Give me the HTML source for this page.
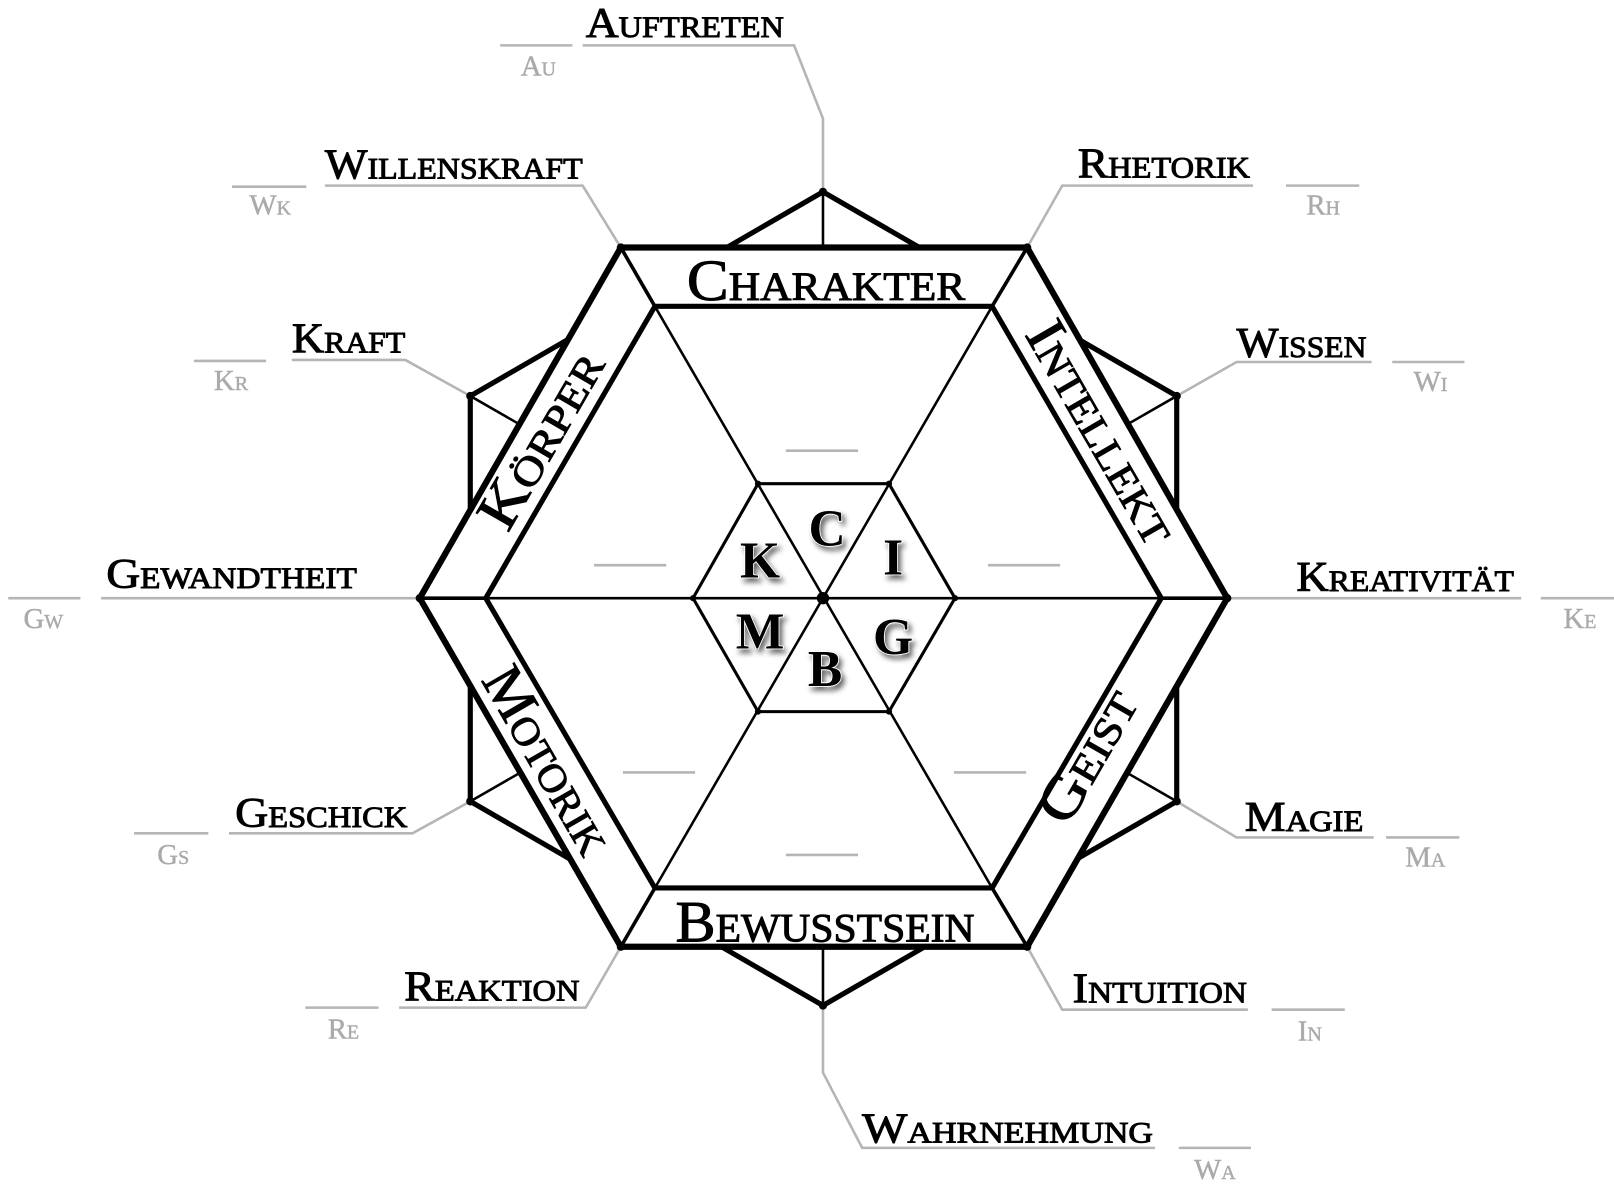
<!DOCTYPE html>
<html><head><meta charset="utf-8"><style>
html,body{margin:0;padding:0;background:#fff;}
svg{display:block;}
.lb{font-family:"Liberation Serif",serif;font-variant:small-caps;font-size:41px;fill:#000;stroke:#000;stroke-width:0.9px;}
.ab{font-family:"Liberation Serif",serif;font-variant:small-caps;font-size:28px;fill:#aaa;stroke:#aaa;stroke-width:0.4px;}
.bd{font-family:"Liberation Serif",serif;font-variant:small-caps;font-size:56px;fill:#000;stroke:#000;stroke-width:0.9px;}
.lt{font-family:"Liberation Serif",serif;font-weight:bold;font-size:50px;fill:#000;stroke:#fff;stroke-width:1.5px;paint-order:stroke;}
.g{stroke:#b5b5b5;stroke-width:2.5;fill:none;}
</style></head><body>
<svg width="1614" height="1185" viewBox="0 0 1565 1149" xmlns="http://www.w3.org/2000/svg">
<defs>
<filter id="sh" x="-50%" y="-50%" width="200%" height="200%">
<feGaussianBlur in="SourceAlpha" stdDeviation="2.5"/><feOffset dx="3" dy="4"/>
<feComponentTransfer><feFuncA type="linear" slope="0.6"/></feComponentTransfer>
<feMerge><feMergeNode/><feMergeNode in="SourceGraphic"/></feMerge></filter>
</defs>
<g class="g">
<polyline points="798,186 798,115 770,44 565,44"/>
<line x1="485" y1="44" x2="555" y2="44"/>
<polyline points="602,240 565,180 315,180"/>
<line x1="225" y1="181" x2="297" y2="181"/>
<polyline points="996,240 1030,180 1215,180"/>
<line x1="1247" y1="180" x2="1318" y2="180"/>
<polyline points="456,384 393,349 283,349"/>
<line x1="188" y1="350" x2="258" y2="350"/>
<polyline points="1141,384 1199,351 1330,351"/>
<line x1="1350" y1="351" x2="1420" y2="351"/>
<line x1="98" y1="580" x2="407" y2="580"/>
<line x1="8" y1="580" x2="78" y2="580"/>
<line x1="1190" y1="580" x2="1475" y2="580"/>
<line x1="1494" y1="580" x2="1565" y2="580"/>
<polyline points="456,777 400,808 222,808"/>
<line x1="130" y1="808" x2="202" y2="808"/>
<polyline points="1141,777 1199,812 1332,812"/>
<line x1="1344" y1="812" x2="1415" y2="812"/>
<polyline points="602,918 568,977 387,977"/>
<line x1="296" y1="977" x2="367" y2="977"/>
<polyline points="996,918 1030,979 1210,979"/>
<line x1="1233" y1="979" x2="1304" y2="979"/>
<polyline points="798,975 798,1040 836,1113 1120,1113"/>
<line x1="1143" y1="1113" x2="1213" y2="1113"/>
</g>
<g stroke="#000" fill="none">
<polygon points="798,186 1141,384 1141,777 798,975 456,777 456,384" stroke-width="5" stroke-linejoin="miter"/>
<g stroke-width="2.5">
<line x1="798" y1="186" x2="798" y2="975"/>
<line x1="456" y1="384" x2="1141" y2="777"/>
<line x1="1141" y1="384" x2="456" y2="777"/>
</g>
</g>
<polygon points="407,580 602,240 996,240 1190,580 996,918 602,918" fill="#fff" stroke="#000" stroke-width="6" stroke-linejoin="miter"/>
<g stroke="#000" stroke-width="3.5">
<line x1="602" y1="240" x2="635" y2="297"/>
<line x1="996" y1="240" x2="962" y2="297"/>
<line x1="407" y1="580" x2="471" y2="580"/>
<line x1="1190" y1="580" x2="1126" y2="580"/>
<line x1="602" y1="918" x2="635" y2="861"/>
<line x1="996" y1="918" x2="962" y2="861"/>
</g>
<polygon points="471,580 635,297 962,297 1126,580 962,861 635,861" fill="#fff" stroke="#000" stroke-width="5"/>
<g stroke="#000" stroke-width="2.5">
<line x1="635" y1="297" x2="962" y2="861"/>
<line x1="962" y1="297" x2="635" y2="861"/>
<line x1="471" y1="580" x2="1126" y2="580"/>
</g>
<polygon points="672,580 735,469 862,469 926,580 862,690 735,690" fill="none" stroke="#000" stroke-width="3"/>
<g class="g">
<line x1="762" y1="437" x2="832" y2="437"/>
<line x1="576" y1="548" x2="646" y2="548"/>
<line x1="958" y1="548" x2="1028" y2="548"/>
<line x1="604" y1="749" x2="674" y2="749"/>
<line x1="925" y1="749" x2="995" y2="749"/>
<line x1="762" y1="829" x2="832" y2="829"/>
</g>
<g fill="#000">
<circle cx="798" cy="580" r="6"/>
<circle cx="735" cy="469" r="3"/><circle cx="862" cy="469" r="3"/>
<circle cx="672" cy="580" r="3"/><circle cx="926" cy="580" r="3"/>
<circle cx="735" cy="690" r="3"/><circle cx="862" cy="690" r="3"/>
<circle cx="407" cy="580" r="4"/><circle cx="1190" cy="580" r="4"/>
<circle cx="602" cy="240" r="4"/><circle cx="996" cy="240" r="4"/>
<circle cx="602" cy="918" r="4"/><circle cx="996" cy="918" r="4"/>
<circle cx="798" cy="186" r="4"/><circle cx="798" cy="975" r="4"/>
<circle cx="456" cy="384" r="4"/><circle cx="1141" cy="384" r="4"/>
<circle cx="456" cy="777" r="4"/><circle cx="1141" cy="777" r="4"/>
</g>
<g filter="url(#sh)" text-anchor="middle">
<text class="lt" x="802" y="529">C</text>
<text class="lt" x="866" y="557">I</text>
<text class="lt" x="737" y="560">K</text>
<text class="lt" x="737" y="629">M</text>
<text class="lt" x="866" y="634">G</text>
<text class="lt" x="800" y="665">B</text>
</g>
<text class="bd" x="801" y="291" text-anchor="middle" textLength="270" lengthAdjust="spacingAndGlyphs">Charakter</text>
<text class="bd" x="800" y="913" text-anchor="middle" textLength="290" lengthAdjust="spacingAndGlyphs">Bewusstsein</text>
<text class="bd" transform="translate(540,435) rotate(-60)" text-anchor="middle" textLength="190" lengthAdjust="spacingAndGlyphs">Körper</text>
<text class="bd" transform="translate(1053,428) rotate(60)" text-anchor="middle" textLength="240" lengthAdjust="spacingAndGlyphs">Intellekt</text>
<text class="bd" transform="translate(516,746) rotate(60)" text-anchor="middle" textLength="200" lengthAdjust="spacingAndGlyphs">Motorik</text>
<text class="bd" transform="translate(1070,742) rotate(-60)" text-anchor="middle" textLength="140" lengthAdjust="spacingAndGlyphs">Geist</text>
<text class="lb" x="568" y="36" textLength="192" lengthAdjust="spacingAndGlyphs">Auftreten</text>
<text class="lb" x="315" y="173" textLength="250" lengthAdjust="spacingAndGlyphs">Willenskraft</text>
<text class="lb" x="1045" y="172" textLength="167" lengthAdjust="spacingAndGlyphs">Rhetorik</text>
<text class="lb" x="283" y="342" textLength="110" lengthAdjust="spacingAndGlyphs">Kraft</text>
<text class="lb" x="1199" y="346" textLength="126" lengthAdjust="spacingAndGlyphs">Wissen</text>
<text class="lb" x="103" y="570" textLength="243" lengthAdjust="spacingAndGlyphs">Gewandtheit</text>
<text class="lb" x="1257" y="573" textLength="211" lengthAdjust="spacingAndGlyphs">Kreativität</text>
<text class="lb" x="228" y="802" textLength="167" lengthAdjust="spacingAndGlyphs">Geschick</text>
<text class="lb" x="1207" y="806" textLength="115" lengthAdjust="spacingAndGlyphs">Magie</text>
<text class="lb" x="392" y="970" textLength="170" lengthAdjust="spacingAndGlyphs">Reaktion</text>
<text class="lb" x="1040" y="972" textLength="169" lengthAdjust="spacingAndGlyphs">Intuition</text>
<text class="lb" x="836" y="1108" textLength="282" lengthAdjust="spacingAndGlyphs">Wahrnehmung</text>
<g text-anchor="middle">
<text class="ab" x="522" y="73">Au</text>
<text class="ab" x="262" y="208">Wk</text>
<text class="ab" x="1283" y="208">Rh</text>
<text class="ab" x="224" y="378">Kr</text>
<text class="ab" x="1387" y="379">Wi</text>
<text class="ab" x="42" y="609">Gw</text>
<text class="ab" x="1532" y="609">Ke</text>
<text class="ab" x="168" y="838">Gs</text>
<text class="ab" x="1382" y="840">Ma</text>
<text class="ab" x="333" y="1007">Re</text>
<text class="ab" x="1270" y="1009">In</text>
<text class="ab" x="1178" y="1143">Wa</text>
</g>
</svg>
</body></html>
